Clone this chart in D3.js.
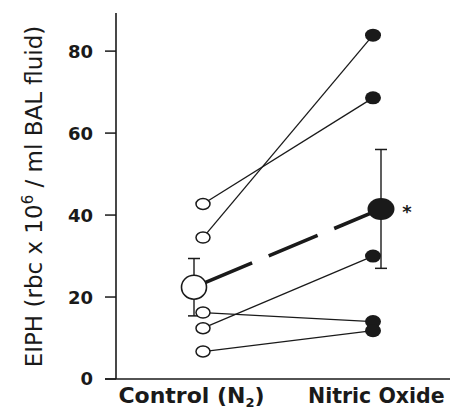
<!DOCTYPE html>
<html>
<head>
<meta charset="utf-8">
<script src="https://cdn.jsdelivr.net/npm/d3@7"></script>
<style>
  body { margin: 0; background: #fff; }
  svg { display: block; }
</style>
</head>
<body>
<svg></svg>
<script>
const width = 450;
const height = 412;
const svg = d3.select("svg").attr("width", width).attr("height", height);

// values
const groups = ["Control", "Nitric Oxide"];
const controlVals = [42.7, 34.5, 16.2, 12.4, 6.7];
const nitricVals = [68.6, 83.9, 14.0, 30.0, 11.8];
const meanVals = [22.4, 41.5];
const sdVals = [7.0, 14.5];
const yTicks = [0, 20, 40, 60, 80];

const ink = "#1a1a1a";

const y = d3.scaleLinear().domain([0, 89.3]).range([379, 13]);
const x = d3.scalePoint().domain(groups).range([203, 373]);
const meanShift = [-9, 8];

// axes
svg.append("line")
  .attr("x1", 116).attr("x2", 116)
  .attr("y1", y(0)).attr("y2", y(89.3))
  .attr("stroke", ink).attr("stroke-width", 1.6);

svg.append("line")
  .attr("x1", 105).attr("x2", width)
  .attr("y1", y(0)).attr("y2", y(0))
  .attr("stroke", ink).attr("stroke-width", 1.6);

const tickG = svg.append("g")
  .selectAll("g")
  .data(yTicks)
  .enter()
  .append("g")
  .attr("transform", (d) => `translate(0,${y(d)})`);

tickG.append("line")
  .attr("x1", 105).attr("x2", 116)
  .attr("stroke", ink).attr("stroke-width", 1.5);

tickG.append("text")
  .text((d) => d)
  .attr("x", 93)
  .attr("dy", "0.36em")
  .attr("text-anchor", "end")
  .attr("font-family", "DejaVu Sans")
  .attr("font-weight", "bold")
  .attr("font-size", "18px")
  .attr("fill", ink);

// y label
const yLab = svg.append("text")
  .attr("transform", "translate(42,196.5) rotate(-90)")
  .attr("text-anchor", "middle")
  .attr("font-family", "DejaVu Sans")
  .attr("font-size", "23px")
  .attr("fill", ink);
yLab.append("tspan").text("EIPH (rbc x 10");
yLab.append("tspan").text("6").attr("font-size", "15px").attr("dy", "-9");
yLab.append("tspan").text(" / ml BAL fluid)").attr("dy", "9");

// x labels
const ctrlLab = svg.append("text")
  .attr("x", x("Control") - 11.5)
  .attr("y", 403)
  .attr("text-anchor", "middle")
  .attr("font-family", "DejaVu Sans")
  .attr("font-weight", "bold")
  .attr("font-size", "22px")
  .attr("fill", ink);
ctrlLab.append("tspan").text("Control (N");
ctrlLab.append("tspan").text("2").attr("font-size", "13px").attr("dy", "4");
ctrlLab.append("tspan").text(")").attr("dy", "-4");

svg.append("text")
  .text("Nitric Oxide")
  .attr("x", x("Nitric Oxide") - 65)
  .attr("y", 403)
  .attr("font-family", "DejaVu Sans")
  .attr("font-weight", "bold")
  .attr("font-size", "20.5px")
  .attr("fill", ink);

// paired lines
const pairs = controlVals.map((c, i) => ({ c: c, n: nitricVals[i] }));

svg.append("g")
  .selectAll("line")
  .data(pairs)
  .enter()
  .append("line")
  .attr("x1", x("Control"))
  .attr("y1", (d) => y(d.c))
  .attr("x2", x("Nitric Oxide"))
  .attr("y2", (d) => y(d.n))
  .attr("stroke", ink)
  .attr("stroke-width", 1.3);

// mean line (dashed)
const mx = groups.map((g, i) => x(g) + meanShift[i]);
svg.append("line")
  .attr("x1", mx[0]).attr("y1", y(meanVals[0]))
  .attr("x2", mx[1]).attr("y2", y(meanVals[1]))
  .attr("stroke", ink)
  .attr("stroke-width", 3.6)
  .attr("stroke-dasharray", "53,18")
  .attr("stroke-dashoffset", 61);

// error bars
const errG = svg.append("g")
  .selectAll("g")
  .data(meanVals)
  .enter()
  .append("g");

errG.append("line")
  .attr("x1", (d, i) => mx[i]).attr("x2", (d, i) => mx[i])
  .attr("y1", (d, i) => y(d + sdVals[i]))
  .attr("y2", (d, i) => y(d - sdVals[i]))
  .attr("stroke", ink).attr("stroke-width", 1.4);

[1, -1].forEach((s) => {
  errG.append("line")
    .attr("x1", (d, i) => mx[i] - 6).attr("x2", (d, i) => mx[i] + 6)
    .attr("y1", (d, i) => y(d + s * sdVals[i]))
    .attr("y2", (d, i) => y(d + s * sdVals[i]))
    .attr("stroke", ink).attr("stroke-width", 1.5);
});

// individual points
svg.append("g")
  .selectAll("ellipse")
  .data(controlVals)
  .enter()
  .append("ellipse")
  .attr("cx", x("Control"))
  .attr("cy", (d) => y(d))
  .attr("rx", 7)
  .attr("ry", 5.5)
  .attr("fill", "#fff")
  .attr("stroke", ink)
  .attr("stroke-width", 1.5);

svg.append("g")
  .selectAll("ellipse")
  .data(nitricVals)
  .enter()
  .append("ellipse")
  .attr("cx", x("Nitric Oxide"))
  .attr("cy", (d) => y(d))
  .attr("rx", 8)
  .attr("ry", 6.5)
  .attr("fill", ink);

// mean points
svg.append("ellipse")
  .attr("cx", mx[0]).attr("cy", y(meanVals[0]))
  .attr("rx", 12.5).attr("ry", 12)
  .attr("fill", "#fff")
  .attr("stroke", ink)
  .attr("stroke-width", 1.6);

svg.append("ellipse")
  .attr("cx", mx[1]).attr("cy", y(meanVals[1]))
  .attr("rx", 13.5).attr("ry", 11)
  .attr("fill", ink);

svg.append("text")
  .text("*")
  .attr("x", mx[1] + 26)
  .attr("y", y(meanVals[1]) + 9)
  .attr("text-anchor", "middle")
  .attr("font-family", "DejaVu Sans")
  .attr("font-weight", "bold")
  .attr("font-size", "18px")
  .attr("fill", ink);
</script>
</body>
</html>
